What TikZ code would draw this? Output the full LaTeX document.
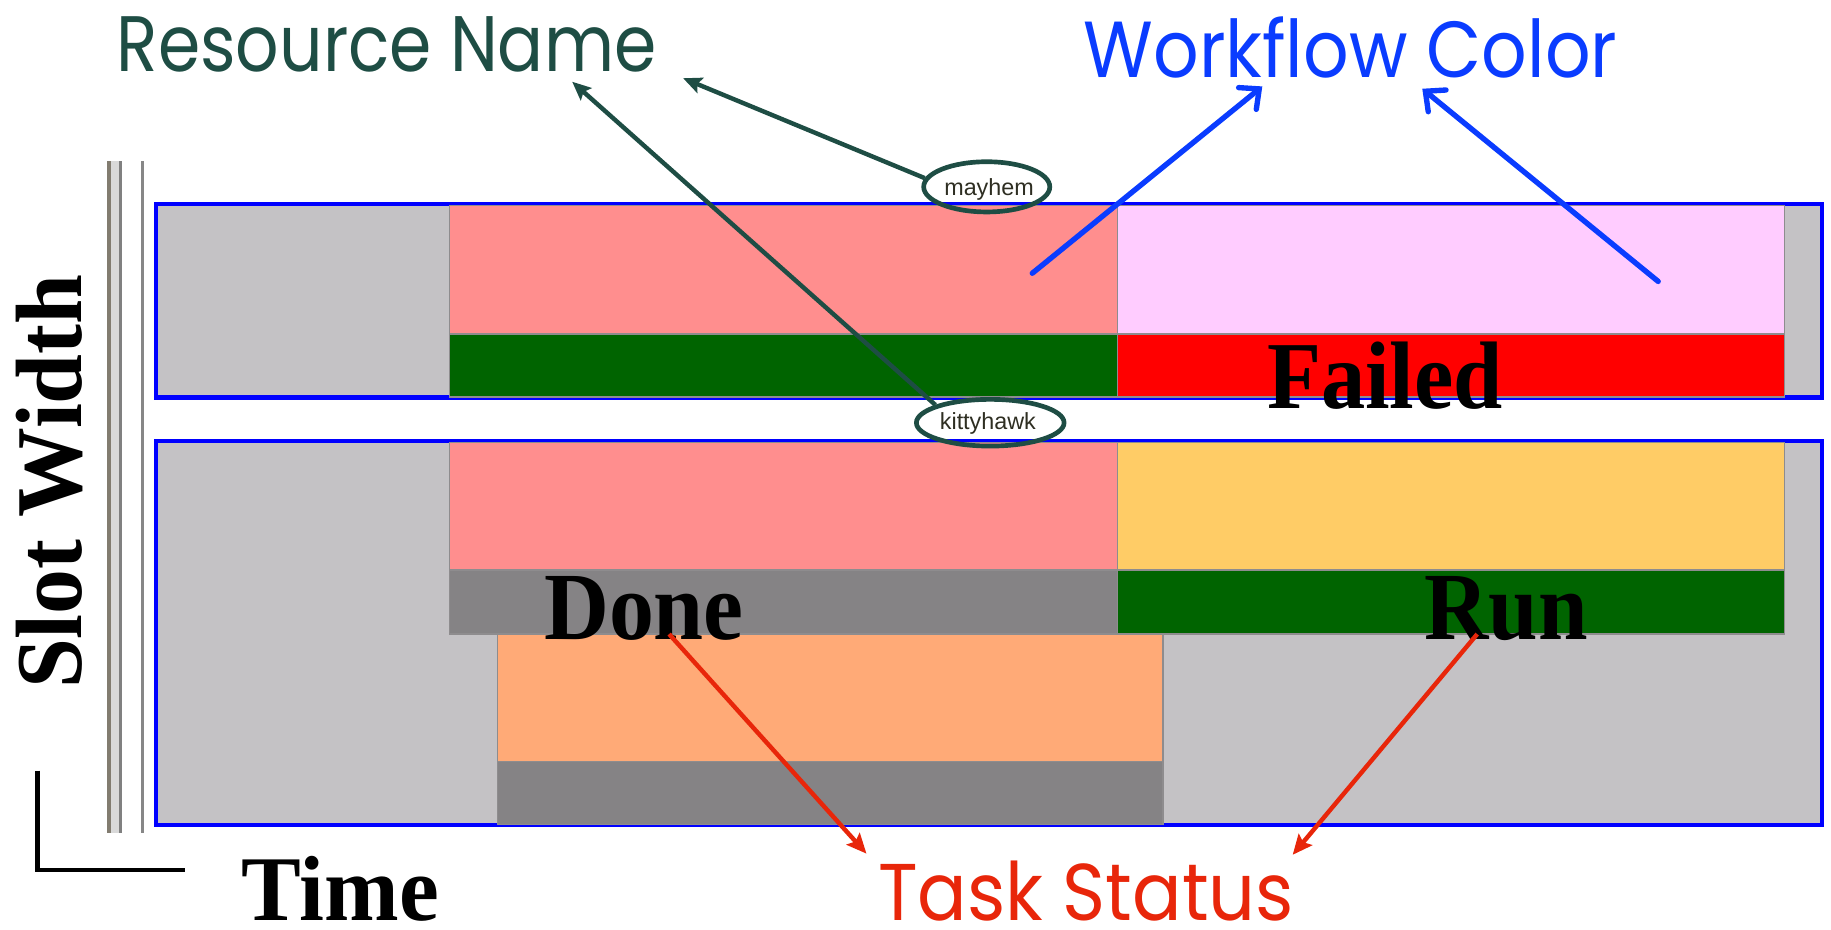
\documentclass[tikz,border=0pt]{standalone}
\usepackage{fontspec}
\usepackage{graphicx}
\usetikzlibrary{shapes.geometric,arrows.meta}

\newfontfamily\handfont{Poppins}
\newfontfamily\timesfont{Liberation Serif}
\newfontfamily\arialfont{Liberation Sans}

% text stretched to a given width and height (in pt)
\newcommand{\fitto}[3]{\resizebox{#1pt}{#2pt}{#3}}

\definecolor{slotgray}{HTML}{C4C2C5}
\definecolor{frameblue}{HTML}{0000FF}
\definecolor{bandedge}{HTML}{8E8C8E}
\definecolor{wfsalmon}{HTML}{FF8E8E}
\definecolor{wflilac}{HTML}{FFCCFF}
\definecolor{wfyellow}{HTML}{FFCC66}
\definecolor{wforange}{HTML}{FFAA77}
\definecolor{strun}{HTML}{006400}
\definecolor{stfail}{HTML}{FF0000}
\definecolor{stdone}{HTML}{858385}
\definecolor{rescolor}{HTML}{1E4D44}
\definecolor{wfcolor}{HTML}{0A3CFF}
\definecolor{stcolor}{HTML}{E8260A}
\definecolor{tagtextcol}{HTML}{2E2E22}

\tikzset{
  slotbox/.style={draw=frameblue, line width=3.8pt, fill=slotgray,
    inner sep=0pt, outer sep=0pt, anchor=north west},
  band/.style={draw=bandedge, line width=1.2pt, inner sep=0pt,
    outer sep=0pt, anchor=north west},
  fitlabel/.style={inner sep=0pt, outer sep=0pt, anchor=base west},
  tagring/.style={ellipse, draw=rescolor, line width=4pt, inner sep=0pt},
  tagtext/.style={inner sep=0pt, anchor=base, text=tagtextcol,
    font=\arialfont\fontsize{20}{20}\selectfont},
  resarrow/.style={draw=rescolor, line width=3.8pt,
    -{Stealth[length=16pt,width=14pt,inset=3pt]}},
  wfarrow/.style={draw=wfcolor, line width=4.6pt, line cap=round,
    -{Straight Barb[length=13pt,width=24pt,line cap=round]}},
  starrow/.style={draw=stcolor, line width=3.8pt,
    -{Stealth[length=17pt,width=15pt,inset=3pt]}},
}

\begin{document}
\begin{tikzpicture}[x=1pt,y=-1pt]
\useasboundingbox (0,0) rectangle (1568,796);

% splitter bars on the left
\fill[gray!30] (92,138) rectangle (104,713);
\draw[line width=2.8pt, color={rgb,255:red,130;green,124;blue,112}] (93.4,138) -- (93.4,713);
\draw[line width=2.4pt, color=gray] (103,138) -- (103,713);
\draw[line width=3.2pt, color={rgb,255:red,135;green,135;blue,135}] (122,138) -- (122,713);

% slot rows
\node[slotbox, minimum width=1427pt, minimum height=166pt] (slotA) at (133.5,174.5) {};
\node[slotbox, minimum width=1427pt, minimum height=329pt] (slotB) at (133.5,377.5) {};

% tasks of the first slot
\node[band, fill=wfsalmon, minimum width=572pt, minimum height=110pt] (taskAwf) at (385,176) {};
\node[band, fill=strun,    minimum width=572pt, minimum height=54pt]  (taskAst) at (385,286) {};
\node[band, fill=wflilac,  minimum width=571pt, minimum height=110pt] (taskBwf) at (957,176) {};
\node[band, fill=stfail,   minimum width=571pt, minimum height=54pt]  (taskBst) at (957,286) {};

% tasks of the second slot
\node[band, fill=wfsalmon, minimum width=572pt, minimum height=109pt] (taskCwf) at (385,379) {};
\node[band, fill=stdone,   minimum width=572pt, minimum height=55pt]  (taskCst) at (385,488) {};
\node[band, fill=wfyellow, minimum width=571pt, minimum height=109pt] (taskDwf) at (957,379) {};
\node[band, fill=strun,    minimum width=571pt, minimum height=55pt]  (taskDst) at (957,488) {};
\node[band, fill=wforange, minimum width=570pt, minimum height=109pt] (taskEwf) at (426,543) {};
\node[band, fill=stdone,   minimum width=570pt, minimum height=54pt]  (taskEst) at (426,652) {};

% status words
\node[fitlabel] (failed) at (1085,350) {\fitto{202}{57}{\timesfont\bfseries Failed}};
\node[fitlabel] (done)   at (466,548)  {\fitto{171}{54}{\timesfont\bfseries Done}};
\node[fitlabel] (run)    at (1220,548) {\fitto{140}{54}{\timesfont\bfseries Run}};

% axes
\coordinate (axtop) at (32,660);
\coordinate (axcorner) at (32,745);
\coordinate (axend) at (158,745);
\draw[line width=4pt] (axtop) -- (axcorner) -- (axend);
\node[fitlabel] (time) at (207,788) {\fitto{169}{55}{\timesfont\bfseries Time}};
\node[fitlabel, rotate=90] (slotwidth) at (70,590) {\fitto{355}{56}{\timesfont\bfseries Slot Width}};

% resource tags
\node[tagring, minimum width=108pt, minimum height=43pt] (mayhem) at (845,160) {};
\node[tagtext] (mayhemtxt) at (847,167) {mayhem};
\node[tagring, minimum width=126.5pt, minimum height=40pt] (kitty) at (848,362) {};
\node[tagtext] (kittytxt) at (846,368) {kittyhawk};

% annotation titles
\node[fitlabel, text=rescolor] (resname) at (100,61) {\fitto{462}{47}{\handfont Resource Name}};
\node[fitlabel, text=wfcolor] (wfname) at (928,66) {\fitto{457}{52}{\handfont Workflow Color}};
\node[fitlabel, text=stcolor] (stname) at (752,788) {\fitto{356}{51}{\handfont Task Status}};

% arrow ends
\coordinate (resTipA) at (585,67);
\coordinate (resTipB) at (490,70);
\coordinate (wfStartA) at (884,234);
\coordinate (wfTipA) at (1081,74);
\coordinate (wfStartB) at (1420,241);
\coordinate (wfTipB) at (1218,76);
\coordinate (stStartA) at (573,543);
\coordinate (stTipA) at (742,731);
\coordinate (stStartB) at (1265,543);
\coordinate (stTipB) at (1107,732);

\draw[resarrow] (mayhem.172) -- (resTipA);
\draw[resarrow] (kitty.162) -- (resTipB);
\draw[wfarrow] (wfStartA) -- (wfTipA);
\draw[wfarrow] (wfStartB) -- (wfTipB);
\draw[starrow] (stStartA) -- (stTipA);
\draw[starrow] (stStartB) -- (stTipB);
\end{tikzpicture}
\end{document}
